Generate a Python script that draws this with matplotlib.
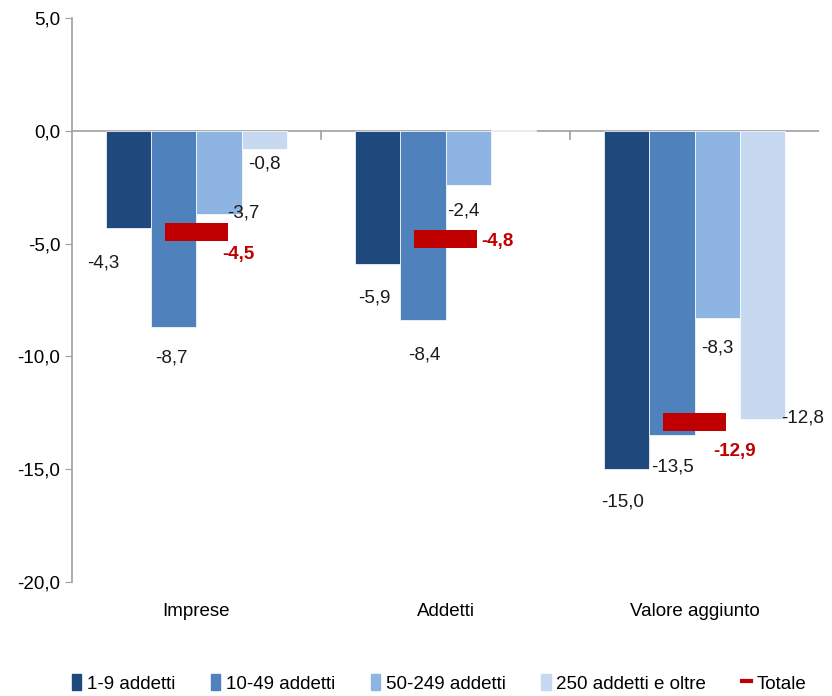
import matplotlib.pyplot as plt
from matplotlib.patches import Patch
from matplotlib.lines import Line2D
import numpy as np

plt.rcParams['font.family'] = ['Liberation Sans Narrow', 'Liberation Sans', 'DejaVu Sans']
fs = 13.5

categories = ['Imprese', 'Addetti', 'Valore aggiunto']
series_names = ['1-9 addetti', '10-49 addetti', '50-249 addetti', '250 addetti e oltre']
values = [
    [-4.3, -5.9, -15.0],
    [-8.7, -8.4, -13.5],
    [-3.7, -2.4, -8.3],
    [-0.8, 0.05, -12.8],
]
totale = [-4.5, -4.8, -12.9]
colors = ['#1F497D', '#4F81BD', '#8DB4E2', '#C6D9F1']
red = '#C00000'

# label offsets in pixels (dx, dy) per series and category; None = no label
offsets = [
    [(-25, -35), (-3, -34), (-4, -33)],
    [(-2, -31), (1, -35), (1, -32)],
    [(24, 1), (-5, -26), (0, -30)],
    [(0, -15), None, (40, 1)],
]
tot_offsets = [(42, -22), (52, -2), (40, -30)]

fig = plt.figure(figsize=(8.32, 6.96), dpi=100)
ax = fig.add_axes([0.0865, 0.164, 0.898, 0.81])

x = np.arange(len(categories))
w = 0.182
for i, (name, vals) in enumerate(zip(series_names, values)):
    pos = x + (i - 1.5) * w
    ax.bar(pos, vals, w, color=colors[i], edgecolor='white', linewidth=0.5, zorder=2)
    for j, v in enumerate(vals):
        if offsets[i][j] is None:
            continue
        dx, dy = offsets[i][j]
        ax.annotate(f'{v:.1f}'.replace('.', ','), (pos[j], v), xytext=(dx, dy),
                    textcoords='offset pixels', ha='center', va='center',
                    fontsize=fs, color='#1a1a1a')

ax.bar(x, [0.8] * 3, 0.25, bottom=np.array(totale) - 0.4, color=red, zorder=3)
for j, t in enumerate(totale):
    dx, dy = tot_offsets[j]
    ax.annotate(f'{t:.1f}'.replace('.', ','), (x[j], t), xytext=(dx, dy),
                textcoords='offset pixels', ha='center', va='center',
                fontsize=fs, color=red, fontweight='bold')

ax.axhline(0, color='#a0a0a0', linewidth=1.2, zorder=1)
for b in x[:-1] + 0.5:
    ax.plot([b, b], [0, -0.35], color='#a0a0a0', linewidth=1.2, zorder=1)

ax.set_xlim(-0.5, 2.5)
ax.set_ylim(-20, 5)
ax.set_yticks(np.arange(-20, 5.1, 5))
ax.set_yticklabels([f'{t:.1f}'.replace('.', ',') for t in np.arange(-20, 5.1, 5)], fontsize=fs)
ax.set_xticks(x)
ax.set_xticklabels(categories, fontsize=fs)
ax.tick_params(axis='x', length=0, pad=15)
ax.tick_params(axis='y', length=5, color='#a0a0a0', direction='out')
for s in ['top', 'right', 'bottom']:
    ax.spines[s].set_visible(False)
ax.spines['left'].set_color('#a0a0a0')
ax.spines['left'].set_linewidth(1.2)

handles = [Patch(color=c) for c in colors] + [Line2D([0], [0], color=red, linewidth=3)]
fig.legend(handles, series_names + ['Totale'], loc='center', bbox_to_anchor=(0.528, 0.018),
           ncol=5, frameon=False, fontsize=fs, handlelength=0.5, handleheight=0.9,
           handletextpad=0.3, columnspacing=1.9)

fig.savefig('out.png', dpi=100)
